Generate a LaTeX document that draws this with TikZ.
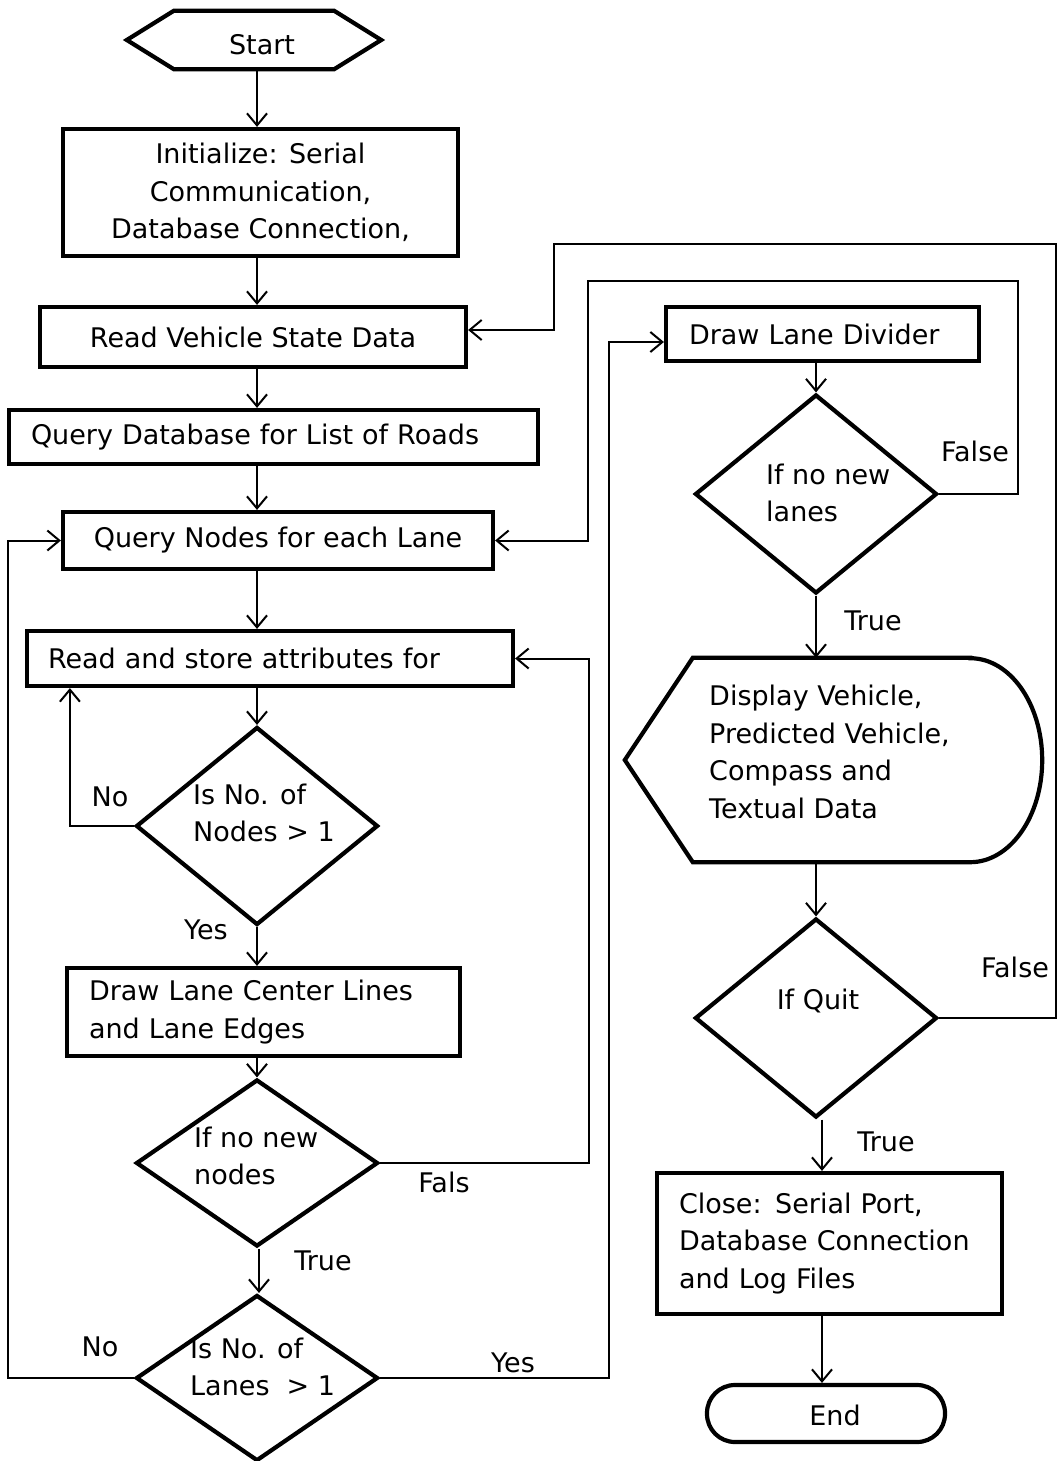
\documentclass[tikz,border=0pt]{standalone}
\usepackage{fontspec}
\setmainfont{DejaVu Sans}
\usetikzlibrary{shapes.geometric,arrows.meta,calc}
\begin{document}
\begin{tikzpicture}[x=1pt,y=-1pt,
 every node/.style={font=\fontsize{27}{37.5}\selectfont, inner sep=0pt},
 box/.style={draw, line width=4.2pt, rectangle, align=center},
 lbox/.style={draw, line width=4.2pt, rectangle, align=left},
 dec/.style={draw, diamond, line width=4.2pt, minimum width=242pt, inner sep=0pt},
 shp/.style={line width=4.2pt, line join=miter},
 arr/.style={line width=2pt, -{Straight Barb[length=12pt,width=20pt,line width=2pt]}}]
\useasboundingbox (0,0) rectangle (1058,1461);
\fill[white] (0,0) rectangle (1058,1461);

% column coordinates
\coordinate (cL) at (257,0);
\coordinate (cL2) at (259,0);
\coordinate (cR) at (816,0);
\coordinate (cR2) at (822,0);
\coordinate (r1) at (1018,281);
\coordinate (l1) at (588,281);
\coordinate (r2) at (1056,244);
\coordinate (l2) at (554,244);

% start
\node[minimum width=160pt, minimum height=58pt] (start) at (254,40) {};
\draw[shp] ([xshift=-47pt]start.west) -- (start.north west) -- (start.north east)
  -- ([xshift=47pt]start.east) -- (start.south east) -- (start.south west) -- cycle;
\node (tstart) at (262,45) {Start};

% left column
\node[box, minimum width=395pt, minimum height=127pt] (init) at (260.5,192.5)
  {Initialize: Serial\\Communication,\\Database Connection,};
\node[box, minimum width=426pt, minimum height=60pt] (rvsd) at (253,337) {Read Vehicle State Data};
\node[lbox, inner xsep=22pt, text width=485pt, minimum height=54pt] (qdb) at (273.5,437) {Query Database for List of Roads};
\node[box, minimum width=430pt, minimum height=57pt] (qn) at (278,540.5) {Query Nodes for each Lane};
\node[lbox, inner xsep=21pt, text width=444pt, minimum height=55pt] (rs) at (270,658.5) {Read and store attributes for};
\node[dec, minimum height=198pt] (d1) at (257,826) {};
\node[anchor=west, align=left] (t1) at (193,813) {Is No. of\\Nodes > 1};
\node[lbox, inner xsep=22pt, text width=349pt, minimum height=88pt] (dlc) at (263.5,1012) {Draw Lane Center Lines\\and Lane Edges};
\node[dec, minimum height=167pt] (d2) at (257,1163) {};
\node[anchor=west, align=left] (t2) at (194,1156) {If no new\\nodes};
\node[dec, minimum height=166pt] (d3) at (257,1378) {};
\node[anchor=west, align=left] (t3) at (190,1367) {Is No. of\\Lanes\ \ > 1};

% right column
\node[lbox, inner xsep=23pt, text width=267pt, minimum height=54pt] (dld) at (822.5,334) {Draw Lane Divider};
\node[dec, minimum height=199pt] (d4) at (816,494) {};
\node[anchor=west, align=left] (t4) at (766,493) {If no new\\lanes};
\node[minimum width=277pt, minimum height=204pt] (disp) at (831.5,760) {};
\draw[shp] (disp.north east) -- (disp.north west) -- ([xshift=-68pt]disp.west) -- (disp.south west)
  -- (disp.south east) arc[start angle=-90, end angle=90, x radius=72pt, y radius=102pt] -- cycle;
\node[anchor=west, align=left] (t6) at (709,752) {Display Vehicle,\\Predicted Vehicle,\\Compass and\\Textual Data};
\node[dec, minimum height=199pt] (d5) at (816,1018) {};
\node (t5) at (818,1001) {If Quit};
\node[lbox, inner xsep=22pt, text width=301pt, minimum height=141pt] (close) at (829.5,1243.5)
  {Close: Serial Port,\\Database Connection\\and Log Files};
\node[box, rounded corners=28pt, minimum width=238pt, minimum height=57pt] (stop) at (826,1413.5) {};
\node (tend) at (835,1415) {End};

% labels
\node (lno1) at (110,797) {No};
\node (lyes1) at (206,930) {Yes};
\node (lfals) at (444,1182) {Fals};
\node (ltrue1) at (323,1261) {True};
\node (lno2) at (100,1347) {No};
\node (lyes2) at (513,1363) {Yes};
\node (lfalse1) at (975,451) {False};
\node (ltrue2) at (873,621) {True};
\node (lfalse2) at (1015,967) {False};
\node (ltrue3) at (886,1142) {True};

% connectors
\draw[arr] (start.south -| cL) -- (init.north -| cL);
\draw[arr] (init.south -| cL) -- (rvsd.north -| cL);
\draw[arr] (rvsd.south -| cL) -- (qdb.north -| cL);
\draw[arr] (qdb.south -| cL) -- (qn.north -| cL);
\draw[arr] (qn.south -| cL) -- (rs.north -| cL);
\draw[arr] (rs.south -| cL) -- (d1.north);
\draw[arr] (d1.south) -- (dlc.north -| d1.south);
\draw[arr] (dlc.south -| cL) -- (d2.north);
\draw[arr] (d2.south -| cL2) -- (d3.north -| cL2);
\draw[arr] (d1.west) -| ([xshift=45pt]rs.south west);
\draw[arr] (d2.east) -| ([xshift=74pt]rs.east) -- (rs.east);
\draw[arr] (d3.west) -| ([xshift=-53pt]qn.west) -- (qn.west);
\draw[arr] (d3.east) -| ([xshift=-55pt,yshift=-8pt]dld.west) -- ([yshift=-8pt]dld.west);
\draw[arr] (d4.east) -| (r1) -- (l1) |- (qn.east);
\draw[arr] (d5.east) -| (r2) -- (l2) |- ([yshift=7pt]rvsd.east);
\draw[arr] (dld.south -| cR) -- (d4.north -| cR);
\draw[arr] (d4.south -| cR) -- (disp.north -| cR);
\draw[arr] (disp.south -| cR) -- (d5.north -| cR);
\draw[arr] (d5.south -| cR2) -- (close.north -| cR2);
\draw[arr] (close.south -| cR2) -- (stop.north -| cR2);
\end{tikzpicture}
\end{document}
